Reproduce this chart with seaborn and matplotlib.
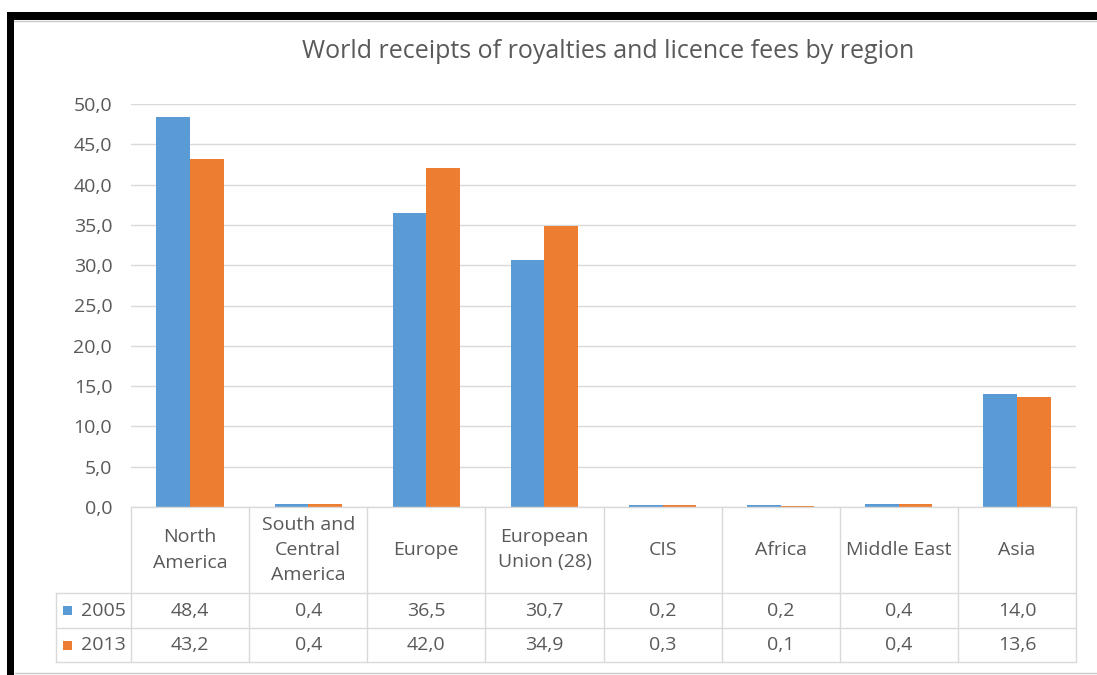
import matplotlib
matplotlib.use("Agg")
import matplotlib.pyplot as plt
import matplotlib.transforms as mtransforms
from matplotlib.patches import Rectangle
from matplotlib.lines import Line2D
from matplotlib.ticker import FuncFormatter, MultipleLocator
import pandas as pd
import seaborn as sns

# ---- data -------------------------------------------------------------
regions = ["North\nAmerica", "South and\nCentral\nAmerica", "Europe",
           "European\nUnion (28)", "CIS", "Africa", "Middle East", "Asia"]
years = ["2005", "2013"]
values_2005 = [48.4, 0.4, 36.5, 30.7, 0.2, 0.2, 0.4, 14.0]
values_2013 = [43.2, 0.4, 42.0, 34.9, 0.3, 0.1, 0.4, 13.6]
colors = ["#5B9BD5", "#ED7D31"]
title = "World receipts of royalties and licence fees by region"

# ---- style ------------------------------------------------------------
sns.set_theme(style="white")
plt.rcParams["font.family"] = ["Open Sans", "DejaVu Sans"]
TEXT = "#595959"
GRID = "#D9D9D9"
FS = 14

W, H = 1097, 675
fig = plt.figure(figsize=(W / 100, H / 100), dpi=100)
fig.patch.set_facecolor("white")


def fx(px):
    return px / W


def fy(py):
    return 1 - py / H


L, R, T, B = 131, 1076, 104, 507
ax = fig.add_axes([fx(L), fy(B), (R - L) / W, (B - T) / H])

df = pd.DataFrame({
    "region": regions * 2,
    "year": [years[0]] * len(regions) + [years[1]] * len(regions),
    "value": values_2005 + values_2013,
})
sns.barplot(data=df, x="region", y="value", hue="year", palette=colors,
            width=0.57, gap=0, saturation=1, errorbar=None, legend=False,
            linewidth=0, ax=ax)

ax.set_xlim(-0.5, len(regions) - 0.5)
ax.set_ylim(0, 50)
ax.yaxis.set_major_locator(MultipleLocator(5))
ax.yaxis.set_major_formatter(FuncFormatter(lambda v, _: f"{v:.1f}".replace(".", ",")))
ax.tick_params(axis="y", length=0, pad=13.5, labelsize=FS, labelcolor=TEXT)
ax.tick_params(axis="x", length=0, labelbottom=False)
ax.set_xlabel("")
ax.set_ylabel("")
ax.yaxis.grid(True, color=GRID, linewidth=1)
ax.set_axisbelow(True)
for s in ax.spines.values():
    s.set_visible(False)

# ---- data table under the plot -----------------------------------------
tr = mtransforms.blended_transform_factory(ax.transData, fig.transFigure)
ftr = fig.transFigure
row_top, row_a, row_b, row_end = 507, 593, 628, 662
n = len(regions)

# horizontal rules
fig.add_artist(Line2D([fx(L), fx(R)], [fy(row_top)] * 2, color=GRID, lw=1, transform=ftr))
for yy in (row_a, row_b, row_end):
    fig.add_artist(Line2D([fx(56), fx(R)], [fy(yy)] * 2, color=GRID, lw=1, transform=ftr))
# vertical rules
fig.add_artist(Line2D([fx(56)] * 2, [fy(row_a), fy(row_end)], color=GRID, lw=1, transform=ftr))
for i in range(n + 1):
    fig.add_artist(Line2D([i - 0.5] * 2, [fy(row_top), fy(row_end)], color=GRID, lw=1, transform=tr))

for i, name in enumerate(regions):
    fig.text(i, fy((row_top + row_a) / 2), name, transform=tr, ha="center", va="center",
             fontsize=FS, color=TEXT, linespacing=1.5)
    fig.text(i, fy((row_a + row_b) / 2), f"{values_2005[i]:.1f}".replace(".", ","),
             transform=tr, ha="center", va="center", fontsize=FS, color=TEXT)
    fig.text(i, fy((row_b + row_end) / 2), f"{values_2013[i]:.1f}".replace(".", ","),
             transform=tr, ha="center", va="center", fontsize=FS, color=TEXT)

for k, (yr, c) in enumerate(zip(years, colors)):
    yc = (row_a + row_b) / 2 if k == 0 else (row_b + row_end) / 2
    fig.add_artist(Rectangle((fx(63), fy(yc + 4.5)), 9 / W, 9 / H, transform=ftr,
                             facecolor=c, edgecolor="none"))
    fig.text(fx(81), fy(yc), yr, transform=ftr, ha="left", va="center",
             fontsize=FS, color=TEXT)

# ---- title ------------------------------------------------------------
fig.text(fx(608), fy(51), title, ha="center", va="center", fontsize=18, color=TEXT)

# ---- frame around the chart --------------------------------------------
fig.add_artist(Rectangle((fx(7), fy(20)), (W - 7) / W, 8 / H, transform=ftr,
                         facecolor="black", edgecolor="none"))
fig.add_artist(Rectangle((fx(7), 0), 7 / W, fy(12), transform=ftr,
                         facecolor="black", edgecolor="none"))
fig.add_artist(Line2D([fx(14), 1], [fy(21)] * 2, color="#C8C8C8", lw=1, transform=ftr))
fig.add_artist(Line2D([fx(15), 1], [fy(672.5)] * 2, color="#C8C8C8", lw=1, transform=ftr))

fig.savefig("out.png", dpi=100)
